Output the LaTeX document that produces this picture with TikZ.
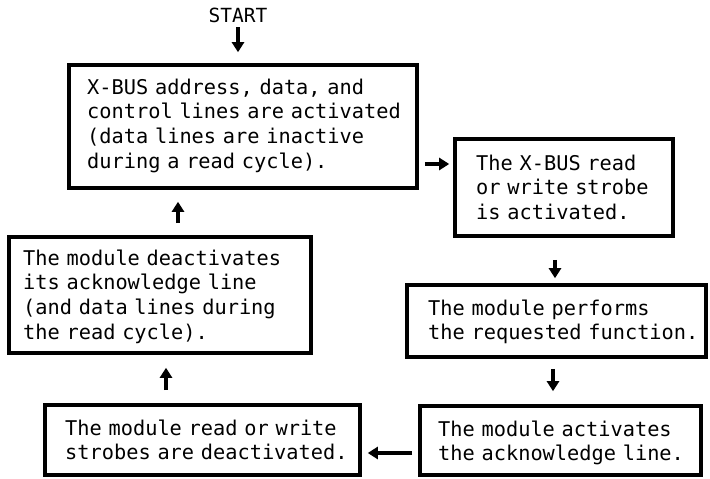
\documentclass[tikz,border=0pt]{standalone}
\usepackage{fontspec}
\newfontfamily\flowfont{DejaVu Sans Mono}
\usetikzlibrary{arrows.meta}
\begin{document}
\begin{tikzpicture}[x=1pt,y=-1pt,
  stepbox/.style={draw=black,line width=3.6pt,inner sep=0pt,fill=white},
  steptext/.style={anchor=base west,inner sep=0pt,align=left,text width=340pt,
    font=\flowfont\fontsize{20.3}{24.8}\selectfont},
  arr/.style={line width=3.4pt,-{Triangle[length=10pt,width=12pt]}}]
\useasboundingbox[fill=white] (0,0) rectangle (710,479);

% boxes of the cycle
\node[stepbox,minimum width=348pt,minimum height=123pt] (b1) at (243,126.5) {};
\node[stepbox,minimum width=218pt,minimum height=97pt] (b2) at (564,187.5) {};
\node[stepbox,minimum width=299pt,minimum height=72pt] (b3) at (556.5,321) {};
\node[stepbox,minimum width=281pt,minimum height=69pt] (b4) at (560.5,440.5) {};
\node[stepbox,minimum width=315pt,minimum height=70pt] (b5) at (202.5,440) {};
\node[stepbox,minimum width=302pt,minimum height=116pt] (b6) at (160,295) {};

% texts inside the boxes
\node[steptext] (t1) at (87,94) {X-BUS address, data, and\\control lines are activated\\(data lines are inactive\\during a read cycle).};
\node[steptext] (t2) at (476,170) {The X-BUS read\\or write strobe\\is activated.};
\node[steptext] (t3) at (428,315) {The module performs\\the requested function.};
\node[steptext] (t4) at (438,436) {The module activates\\the acknowledge line.};
\node[steptext] (t5) at (65,435) {The module read or write\\strobes are deactivated.};
\node[steptext] (t6) at (23,265) {The module deactivates\\its acknowledge line\\(and data lines during\\the read cycle).};

% start label
\node[inner sep=0pt,anchor=base,font=\flowfont\fontsize{19.5}{22}\selectfont] (start) at (238,22) {START};

% connectors
\draw[arr,shorten <=5pt,shorten >=11pt] (start.south) -- (start.south |- b1.north);
\draw[arr,shorten <=6pt,shorten >=4pt] (b1.east |- 0,164) -- (b2.west |- 0,164);
\draw[arr,shorten <=22pt,shorten >=5pt] (b2.south -| 0,0) ++(555,0) coordinate (c2) (c2) -- (c2 |- b3.north);
\draw[arr,shorten <=10pt,shorten >=13pt] (b3.south -| 0,0) ++(553,0) coordinate (c3) (c3) -- (c3 |- b4.north);
\draw[arr,shorten <=6pt,shorten >=6pt] (b4.west |- 0,453) -- (b5.east |- 0,453);
\draw[arr,shorten <=13pt,shorten >=13pt] (b5.north -| 0,0) ++(166,0) coordinate (c5) (c5) -- (c5 |- b6.south);
\draw[arr,shorten <=12pt,shorten >=12pt] (b6.north -| 0,0) ++(178,0) coordinate (c6) (c6) -- (c6 |- b1.south);
\end{tikzpicture}
\end{document}
